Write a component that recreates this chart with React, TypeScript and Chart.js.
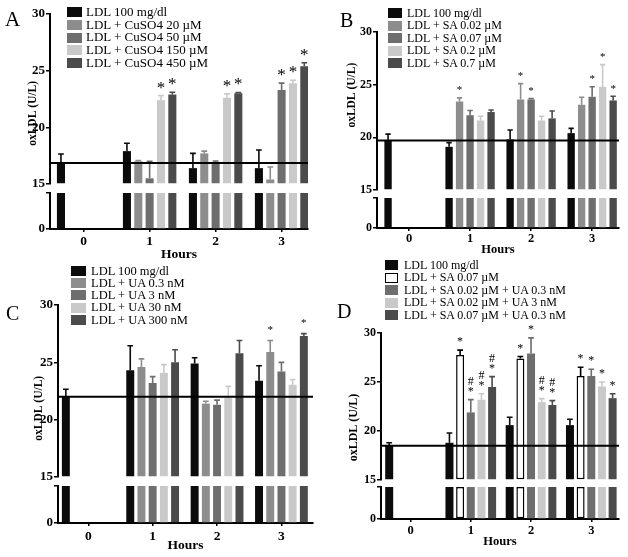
import React, { useEffect, useRef } from 'react';
import { Chart, registerables } from 'chart.js';

Chart.register(...registerables);

const SERIF = '"Liberation Serif", "Times New Roman", serif';

// ---------------- data ----------------
const HOURS = [0, 1, 2, 3];
const Y_TITLE = 'oxLDL (U/L)';
const X_TITLE = 'Hours';
const UPPER_TICKS = [15, 20, 25, 30];
const LOWER_TOP = 5; // the lower (broken) segment of the axis runs 0..LOWER_TOP

// Panel A – CuSO4
const A_NAMES = ['LDL 100 mg/dl', 'LDL + CuSO4 20 µM', 'LDL + CuSO4 50 µM', 'LDL + CuSO4 150 µM', 'LDL + CuSO4 450 µM'];
const A_LDL = [16.85, 17.9, 16.4, 16.4];
const A_CU20 = [null, 17.0, 17.7, 15.4];
const A_CU50 = [null, 15.5, 16.95, 23.3];
const A_CU150 = [null, 22.4, 22.6, 23.9];
const A_CU450 = [null, 22.9, 23.0, 25.4];
const A_LDL_ERR = [0.8, 0.7, 1.3, 1.6];
const A_CU20_ERR = [0, 0.08, 0.2, 1.1];
const A_CU50_ERR = [0, 1.5, 0.08, 0.6];
const A_CU150_ERR = [0, 0.4, 0.35, 0.25];
const A_CU450_ERR = [0, 0.2, 0.08, 0.3];
const A_CU50_SIG = ['', '', '', '*'];
const A_CU150_SIG = ['', '*', '*', '*'];
const A_CU450_SIG = ['', '*', '*', '*'];

// Panel B – SA
const B_NAMES = ['LDL 100 mg/dl', 'LDL + SA 0.02 µM', 'LDL + SA 0.07 µM', 'LDL + SA 0.2 µM', 'LDL + SA 0.7 µM'];
const B_LDL = [19.7, 19.1, 19.8, 20.4];
const B_SA002 = [null, 23.4, 23.6, 23.1];
const B_SA007 = [null, 22.1, 23.6, 23.85];
const B_SA02 = [null, 21.6, 21.6, 24.8];
const B_SA07 = [null, 22.4, 21.8, 23.5];
const B_LDL_ERR = [0.6, 0.4, 0.9, 0.45];
const B_SA002_ERR = [0, 0.35, 1.5, 0.7];
const B_SA007_ERR = [0, 0.45, 0.08, 0.95];
const B_SA02_ERR = [0, 0.4, 0.4, 2.1];
const B_SA07_ERR = [0, 0.2, 0.7, 0.4];
const B_SA002_SIG = ['', '*', '*', ''];
const B_SA007_SIG = ['', '', '*', '*'];
const B_SA02_SIG = ['', '', '', '*'];
const B_SA07_SIG = ['', '', '', '*'];

// Panel C – UA
const C_NAMES = ['LDL 100 mg/dl', 'LDL + UA 0.3 nM', 'LDL + UA 3 nM', 'LDL + UA 30 nM', 'LDL + UA 300 nM'];
const C_LDL = [22.0, 24.3, 24.9, 23.4];
const C_UA03 = [null, 24.6, 21.4, 25.9];
const C_UA3 = [null, 23.2, 21.3, 24.2];
const C_UA30 = [null, 24.1, 21.9, 23.05];
const C_UA300 = [null, 25.0, 25.8, 27.3];
const C_LDL_ERR = [0.65, 2.15, 0.5, 1.3];
const C_UA03_ERR = [0, 0.7, 0.2, 1.0];
const C_UA3_ERR = [0, 0.55, 0.4, 0.8];
const C_UA30_ERR = [0, 0.7, 1.0, 0.45];
const C_UA300_ERR = [0, 1.1, 1.1, 0.2];
const C_UA03_SIG = ['', '', '', '*'];
const C_UA300_SIG = ['', '', '', '*'];

// Panel D – SA + UA
const D_NAMES = ['LDL 100 mg/dl', 'LDL + SA 0.07 µM', 'LDL + SA 0.02 µM + UA 0.3 nM', 'LDL + SA 0.02 µM + UA 3 nM', 'LDL + SA 0.07 µM + UA 0.3 nM'];
const D_LDL = [18.5, 18.8, 20.6, 20.6];
const D_SA007 = [null, 27.75, 27.4, 25.6];
const D_SA002_UA03 = [null, 21.9, 27.9, 25.6];
const D_SA002_UA3 = [null, 23.2, 22.95, 24.55];
const D_SA007_UA03 = [null, 24.5, 22.65, 23.35];
const D_LDL_ERR = [0.3, 1.0, 0.8, 0.6];
const D_SA007_ERR = [0, 0.5, 0.2, 0.9];
const D_SA002_UA03_ERR = [0, 1.3, 1.6, 0.7];
const D_SA002_UA3_ERR = [0, 0.6, 0.35, 0.45];
const D_SA007_UA03_ERR = [0, 1.05, 0.45, 0.45];
const D_SA007_SIG = ['', '*', '*', '*'];
const D_SA002_UA03_SIG = ['', '#*', '*', '*'];
const D_SA002_UA3_SIG = ['', '#*', '#*', '*'];
const D_SA007_UA03_SIG = ['', '#*', '#*', '*'];

// ---------------- styling ----------------
const FILLS = ['#0b0b0b', '#8d8d8d', '#6e6e6e', '#c9c9c9', '#4b4b4b'];

type Series = { name: string; values: (number | null)[]; errors: number[]; sig?: string[]; fill: string; outline?: boolean };

type Geo = {
  left: number; top: number; w: number; h: number;
  padTop: number; padRight: number; yWidth: number; xHeight: number;
  upper: number; gap: number; lower: number;
  xMin: number; xMax: number; catPct: number; barPct: number;
  yTickSize: number; xTickSize: number; xTickPad: number; xTitleSize: number; xTitlePad: number;
  yTitleSize: number; yTitlePad: number; yTitleShift: number;
  markSize: number; markGap: number; hashGap: number;
  letter: string; letterLeft: number; letterBase: number; letterSize: number;
  lgBoxLeft: number; lgBoxW: number; lgBoxH: number; lgTextLeft: number; lgFirst: number; lgPitch: number; lgSize: number;
};

const mk = (names: string[], vals: (number | null)[][], errs: number[][], sigs: (string[] | undefined)[], outlineIdx = -1): Series[] =>
  names.map((n, i) => ({ name: n, values: vals[i], errors: errs[i], sig: sigs[i], fill: i === outlineIdx ? '#ffffff' : FILLS[i], outline: i === outlineIdx }));

const PANEL_A = mk(A_NAMES, [A_LDL, A_CU20, A_CU50, A_CU150, A_CU450], [A_LDL_ERR, A_CU20_ERR, A_CU50_ERR, A_CU150_ERR, A_CU450_ERR], [undefined, undefined, A_CU50_SIG, A_CU150_SIG, A_CU450_SIG]);
const PANEL_B = mk(B_NAMES, [B_LDL, B_SA002, B_SA007, B_SA02, B_SA07], [B_LDL_ERR, B_SA002_ERR, B_SA007_ERR, B_SA02_ERR, B_SA07_ERR], [undefined, B_SA002_SIG, B_SA007_SIG, B_SA02_SIG, B_SA07_SIG]);
const PANEL_C = mk(C_NAMES, [C_LDL, C_UA03, C_UA3, C_UA30, C_UA300], [C_LDL_ERR, C_UA03_ERR, C_UA3_ERR, C_UA30_ERR, C_UA300_ERR], [undefined, C_UA03_SIG, undefined, undefined, C_UA300_SIG]);
const PANEL_D = mk(D_NAMES, [D_LDL, D_SA007, D_SA002_UA03, D_SA002_UA3, D_SA007_UA03], [D_LDL_ERR, D_SA007_ERR, D_SA002_UA03_ERR, D_SA002_UA3_ERR, D_SA007_UA03_ERR], [undefined, D_SA007_SIG, D_SA002_UA03_SIG, D_SA002_UA3_SIG, D_SA007_UA03_SIG], 1);

const GEO_A: Geo = {
  left: 0, top: 0, w: 314, h: 264, padTop: 14, padRight: 6, yWidth: 50, xHeight: 35,
  upper: 170, gap: 9, lower: 36, xMin: -0.51, xMax: 3.4, catPct: 0.86, barPct: 0.71,
  yTickSize: 13, xTickSize: 13.5, xTickPad: 1, xTitleSize: 13.5, xTitlePad: 1,
  yTitleSize: 11.5, yTitlePad: 26, yTitleShift: 14,
  markSize: 17, markGap: 3, hashGap: 10,
  letter: 'A', letterLeft: 5, letterBase: 27, letterSize: 21,
  lgBoxLeft: 67, lgBoxW: 15, lgBoxH: 10, lgTextLeft: 86, lgFirst: 12.5, lgPitch: 12.65, lgSize: 13,
};
const GEO_B: Geo = {
  left: 314, top: 0, w: 314, h: 264, padTop: 32, padRight: 9, yWidth: 63, xHeight: 36,
  upper: 158, gap: 8, lower: 30, xMin: -0.525, xMax: 3.44, catPct: 0.86, barPct: 0.7,
  yTickSize: 12, xTickSize: 12.5, xTickPad: 0, xTitleSize: 12.5, xTitlePad: 7,
  yTitleSize: 11.5, yTitlePad: 31, yTitleShift: -16,
  markSize: 11, markGap: 4.5, hashGap: 10,
  letter: 'B', letterLeft: 340, letterBase: 27, letterSize: 20,
  lgBoxLeft: 388, lgBoxW: 14, lgBoxH: 10, lgTextLeft: 407, lgFirst: 13, lgPitch: 12.5, lgSize: 12,
};
const GEO_C: Geo = {
  left: 0, top: 280, w: 314, h: 277, padTop: 25, padRight: 1, yWidth: 58, xHeight: 34,
  upper: 172, gap: 9, lower: 37, xMin: -0.47, xMax: 3.49, catPct: 0.87, barPct: 0.71,
  yTickSize: 13, xTickSize: 13.5, xTickPad: 2, xTitleSize: 13.5, xTitlePad: 3,
  yTitleSize: 11.5, yTitlePad: 32, yTitleShift: 17,
  markSize: 11, markGap: 8, hashGap: 10,
  letter: 'C', letterLeft: 6, letterBase: 320, letterSize: 20,
  lgBoxLeft: 71, lgBoxW: 15, lgBoxH: 10, lgTextLeft: 91, lgFirst: 271, lgPitch: 12.2, lgSize: 12.5,
};
const GEO_D: Geo = {
  left: 314, top: 280, w: 314, h: 277, padTop: 53, padRight: 9, yWidth: 67, xHeight: 38,
  upper: 147, gap: 7, lower: 32, xMin: -0.49, xMax: 3.46, catPct: 0.885, barPct: 0.75,
  yTickSize: 12, xTickSize: 12.5, xTickPad: 1, xTitleSize: 12.5, xTitlePad: 8,
  yTitleSize: 12, yTitlePad: 33, yTitleShift: 21,
  markSize: 12, markGap: 5, hashGap: 10,
  letter: 'D', letterLeft: 337, letterBase: 318, letterSize: 20,
  lgBoxLeft: 385, lgBoxW: 13, lgBoxH: 10, lgTextLeft: 404, lgFirst: 265, lgPitch: 12.5, lgSize: 12,
};

function shiftedTitle(text: string, shift: number, size: number) {
  const n = Math.round((Math.abs(shift) * 2) / (0.25 * size));
  const pad = ' '.repeat(n);
  return shift > 0 ? text + pad : pad + text;
}

function makeExtrasPlugin(series: Series[], g: Geo) {
  return {
    id: 'panelExtras',
    afterDatasetsDraw(chart: any) {
      const ctx = chart.ctx;
      const area = chart.chartArea;
      const yUp = chart.scales.yUp;
      ctx.save();
      chart.data.datasets.forEach((ds: any, i: number) => {
        if (!ds._upper) return;
        const s: Series = series[ds._series];
        const meta = chart.getDatasetMeta(i);
        s.values.forEach((v, j) => {
          if (v == null) return;
          const el: any = meta.data[j];
          if (!el) return;
          const e = s.errors[j] || 0;
          const yTop = yUp.getPixelForValue(v + e);
          const yBar = yUp.getPixelForValue(v);
          const col = s.outline ? '#000' : s.fill;
          ctx.strokeStyle = col;
          ctx.lineWidth = 1.6;
          const half = el.width * 0.36;
          if (e > 0) {
            ctx.beginPath();
            ctx.moveTo(el.x, yBar);
            ctx.lineTo(el.x, yTop);
            ctx.moveTo(el.x - half, yTop);
            ctx.lineTo(el.x + half, yTop);
            ctx.stroke();
          }
          const sig = s.sig ? s.sig[j] : '';
          if (sig) {
            ctx.fillStyle = '#000';
            ctx.textAlign = 'center';
            ctx.textBaseline = 'alphabetic';
            ctx.font = `${g.markSize}px ${SERIF}`;
            const base = yTop - g.markGap;
            if (sig.includes('*')) ctx.fillText('*', el.x, base);
            if (sig.includes('#')) ctx.fillText('#', el.x, base - g.hashGap);
          }
        });
      });
      // reference line at the 0 h LDL level
      const ref = series[0].values[0] as number;
      const yRef = yUp.getPixelForValue(ref);
      ctx.strokeStyle = '#000';
      ctx.lineWidth = 2;
      ctx.beginPath();
      ctx.moveTo(area.left, yRef);
      ctx.lineTo(area.right, yRef);
      ctx.stroke();
      ctx.restore();
    },
  };
}

function Panel({ series, g }: { series: Series[]; g: Geo }) {
  const ref = useRef<HTMLCanvasElement | null>(null);
  useEffect(() => {
    if (!ref.current) return;
    const datasets: any[] = [];
    series.forEach((s, i) => {
      const common = {
        type: 'bar',
        label: s.name,
        stack: 's' + i,
        backgroundColor: s.fill,
        borderColor: '#000',
        borderWidth: s.outline ? 1.5 : 0,
        borderSkipped: false,
        xAxisID: 'x',
        _series: i,
      };
      datasets.push({
        ...common,
        yAxisID: 'yUp',
        base: UPPER_TICKS[0],
        _upper: true,
        data: HOURS.map((h, j) => ({ x: h, y: s.values[j] })),
      });
      datasets.push({
        ...common,
        yAxisID: 'yLow',
        _upper: false,
        data: HOURS.map((h, j) => ({ x: h, y: s.values[j] == null ? null : Math.min(s.values[j] as number, LOWER_TOP) })),
      });
    });

    const bold = (size: number) => ({ family: SERIF, size, weight: 'bold' as const });
    const axisGrid = { display: true, drawOnChartArea: false, drawTicks: true, tickLength: 4, color: '#000', lineWidth: 1.5 };
    const axisBorder = { display: true, color: '#000', width: 2 };

    const chart = new Chart(ref.current, {
      type: 'bar',
      data: { datasets },
      options: {
        responsive: false,
        animation: false,
        events: [],
        layout: { padding: { top: g.padTop, right: g.padRight, left: 0, bottom: 0 } },
        datasets: { bar: { categoryPercentage: g.catPct, barPercentage: g.barPct } },
        plugins: { legend: { display: false }, tooltip: { enabled: false } },
        scales: {
          x: {
            type: 'linear',
            position: 'bottom',
            min: g.xMin,
            max: g.xMax,
            offset: false,
            afterBuildTicks: (s: any) => { s.ticks = HOURS.map((v) => ({ value: v })); },
            afterFit: (s: any) => { s.height = g.xHeight; },
            grid: { display: true, drawOnChartArea: false, drawTicks: true, tickLength: 3, color: '#000', lineWidth: 1.5, offset: false },
            border: axisBorder,
            ticks: { color: '#000', padding: g.xTickPad, font: bold(g.xTickSize), maxRotation: 0, autoSkip: false, callback: (v: any) => String(v) },
            title: { display: true, text: X_TITLE, color: '#000', font: bold(g.xTitleSize), padding: { top: 0, bottom: g.xTitlePad } },
          },
          yUp: {
            type: 'linear',
            position: 'left',
            stack: 'oxldl',
            stackWeight: g.upper,
            weight: 3,
            stacked: false,
            min: UPPER_TICKS[0],
            max: UPPER_TICKS[UPPER_TICKS.length - 1],
            afterBuildTicks: (s: any) => { s.ticks = UPPER_TICKS.map((v) => ({ value: v })); },
            afterFit: (s: any) => { s.width = g.yWidth; },
            grid: axisGrid,
            border: axisBorder,
            ticks: { color: '#000', padding: 1, font: bold(g.yTickSize) },
            title: { display: true, text: shiftedTitle(Y_TITLE, g.yTitleShift, g.yTitleSize), color: '#000', font: bold(g.yTitleSize), padding: { top: g.yTitlePad, bottom: 0 } },
          },
          yGap: {
            type: 'linear',
            position: 'left',
            stack: 'oxldl',
            stackWeight: g.gap,
            weight: 2,
            min: 0,
            max: 1,
            afterFit: (s: any) => { s.width = g.yWidth; },
            grid: { display: false },
            border: { display: false },
            ticks: { display: false },
          },
          yLow: {
            type: 'linear',
            position: 'left',
            stack: 'oxldl',
            stackWeight: g.lower,
            weight: 1,
            stacked: false,
            min: 0,
            max: LOWER_TOP,
            afterBuildTicks: (s: any) => { s.ticks = [{ value: 0 }, { value: LOWER_TOP }]; },
            afterFit: (s: any) => { s.width = g.yWidth; },
            grid: axisGrid,
            border: axisBorder,
            ticks: { color: '#000', padding: 1, font: bold(g.yTickSize), callback: (v: any) => (v === 0 ? '0' : '') },
          },
        },
      } as any,
      plugins: [makeExtrasPlugin(series, g)],
    });
    return () => chart.destroy();
  }, [series, g]);

  const lgTop = g.lgFirst - g.lgPitch / 2;
  return (
    <>
      <canvas ref={ref} width={g.w} height={g.h} style={{ position: 'absolute', left: g.left, top: g.top, width: g.w, height: g.h }} />
      <div style={{ position: 'absolute', left: g.letterLeft, top: g.letterBase - 0.8375 * g.letterSize, fontFamily: SERIF, fontSize: g.letterSize, lineHeight: 1, color: '#000' }}>{g.letter}</div>
      <div style={{ position: 'absolute', left: g.lgBoxLeft, top: lgTop }}>
        {series.map((s) => (
          <div key={s.name} style={{ display: 'flex', alignItems: 'center', height: g.lgPitch, whiteSpace: 'nowrap' }}>
            <div style={{ width: g.lgBoxW, height: g.lgBoxH, background: s.fill, boxSizing: 'border-box', border: s.outline ? '1px solid #000' : 'none', flex: 'none' }} />
            <div style={{ marginLeft: g.lgTextLeft - g.lgBoxLeft - g.lgBoxW, fontFamily: SERIF, fontSize: g.lgSize, lineHeight: `${g.lgPitch}px`, color: '#000' }}>{s.name}</div>
          </div>
        ))}
      </div>
    </>
  );
}

export default function App() {
  return (
    <div style={{ position: 'absolute', left: 0, top: 0, width: 628, height: 557, background: '#fff', overflow: 'hidden' }}>
      <Panel series={PANEL_A} g={GEO_A} />
      <Panel series={PANEL_B} g={GEO_B} />
      <Panel series={PANEL_C} g={GEO_C} />
      <Panel series={PANEL_D} g={GEO_D} />
    </div>
  );
}
